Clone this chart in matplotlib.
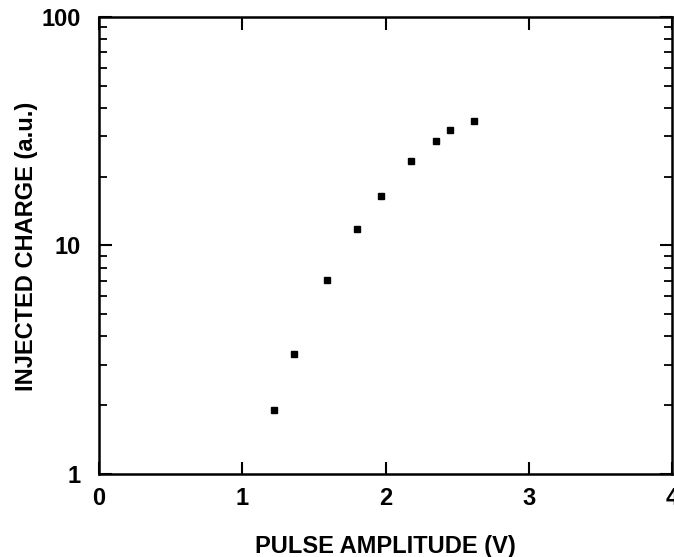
import matplotlib
matplotlib.use('Agg')
import matplotlib.pyplot as plt
from matplotlib.ticker import LogLocator, NullFormatter, FixedLocator

# Values
pulse_amplitude = [1.22, 1.36, 1.59, 1.80, 1.97, 2.18, 2.35, 2.45, 2.62]
injected_charge = [1.9, 3.35, 7.05, 11.8, 16.5, 23.4, 28.7, 32.0, 34.9]

x_ticks = [0, 1, 2, 3, 4]
y_ticks = [1, 10, 100]
y_tick_labels = ['1', '10', '100']

plt.rcParams['font.family'] = ['Liberation Sans', 'DejaVu Sans']
plt.rcParams['font.weight'] = 'bold'

fig = plt.figure(figsize=(6.74, 5.57), dpi=100)
ax = fig.add_axes([0.147, 0.149, 0.850, 0.8205])

ax.plot(pulse_amplitude, injected_charge, linestyle='none', marker='s',
        markersize=5, color='black')

ax.set_yscale('log')
ax.set_xlim(0, 4)
ax.set_ylim(1, 100)

ax.xaxis.set_major_locator(FixedLocator(x_ticks))
ax.set_yticks(y_ticks)
ax.set_yticklabels(y_tick_labels)
ax.yaxis.set_minor_locator(LogLocator(base=10, subs=range(2, 10)))
ax.yaxis.set_minor_formatter(NullFormatter())

ax.tick_params(axis='both', which='major', direction='in', top=True, right=True,
               length=9, width=1.5, labelsize=17)
ax.tick_params(axis='both', which='minor', direction='in', top=True, right=True,
               length=6, width=1.3)
ax.tick_params(axis='x', which='major', pad=9)
ax.tick_params(axis='y', which='major', pad=13)

for s in ax.spines.values():
    s.set_linewidth(1.8)

ax.set_xlabel('PULSE AMPLITUDE (V)', fontsize=17, fontweight='bold', va='center')
ax.xaxis.set_label_coords(0.5, -0.158)
ax.set_ylabel('INJECTED CHARGE (a.u.)', fontsize=17, fontweight='bold', va='center')
ax.yaxis.set_label_coords(-0.126, 0.498)

fig.savefig('out.png', dpi=100)
